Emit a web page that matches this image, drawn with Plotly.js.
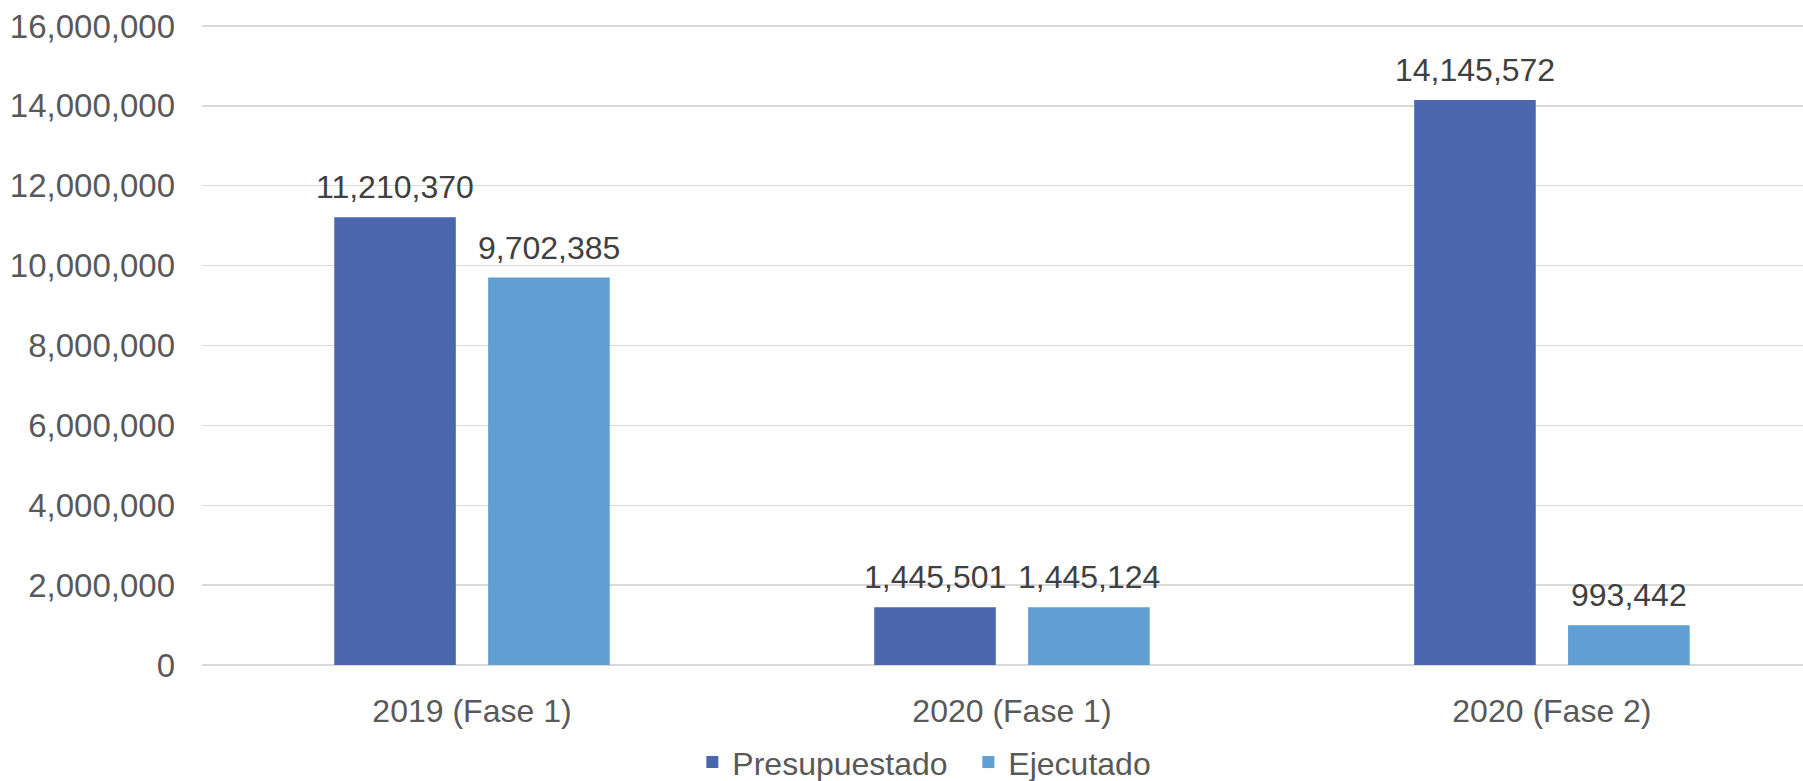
<!DOCTYPE html>
<html>
<head>
<meta charset="utf-8">
<script src="https://cdn.plot.ly/plotly-3.0.1.min.js"></script>
<style>
  html, body { margin: 0; padding: 0; background: #ffffff; }
  #chart { width: 1803px; height: 781px; }
</style>
</head>
<body>
<div id="chart"></div>
<script>
var categories = ["2019 (Fase 1)", "2020 (Fase 1)", "2020 (Fase 2)"];
var presupuestado = [11210370, 1445501, 14145572];
var ejecutado = [9702385, 1445124, 993442];
var seriesNames = ["Presupuestado", "Ejecutado"];
var yTickVals = [0, 2000000, 4000000, 6000000, 8000000, 10000000, 12000000, 14000000, 16000000];

var FONT = "Liberation Sans, Arial, sans-serif";
var FS = 32;

var traces = [
  {
    type: "bar",
    name: seriesNames[0],
    x: categories,
    y: presupuestado,
    marker: { color: "#4A66AD" },
    hoverinfo: "x+y"
  },
  {
    type: "bar",
    name: seriesNames[1],
    x: categories,
    y: ejecutado,
    marker: { color: "#619ED2" },
    hoverinfo: "x+y"
  }
];

function fmt(v) { return v.toLocaleString("en-US"); }

// data labels placed through the axis scales (offset to each bar of the group)
var BAR_OFFSET_PX = 77;
var annotations = [];
[presupuestado, ejecutado].forEach(function (series, si) {
  series.forEach(function (v, i) {
    annotations.push({
      x: categories[i],
      y: v,
      xref: "x",
      yref: "y",
      text: fmt(v),
      showarrow: false,
      xanchor: "center",
      yanchor: "bottom",
      xshift: si === 0 ? -BAR_OFFSET_PX : BAR_OFFSET_PX,
      yshift: 10,
      font: { family: FONT, size: FS, color: "#404040" }
    });
  });
});

var layout = {
  width: 1803,
  height: 781,
  paper_bgcolor: "#ffffff",
  plot_bgcolor: "#ffffff",
  margin: { l: 202, r: 0, t: 24, b: 116 },
  barmode: "group",
  bargap: 0.43,
  bargroupgap: 0.21,
  font: { family: FONT, size: FS, color: "#595959" },
  showlegend: true,
  annotations: annotations,
  legend: {
    orientation: "h",
    xref: "container",
    yref: "container",
    x: 0.384,
    xanchor: "left",
    y: 0.024,
    yanchor: "middle",
    font: { family: FONT, size: FS, color: "#595959" },
    itemwidth: 30,
    entrywidth: 231,
    tracegroupgap: 0
  },
  xaxis: {
    type: "category",
    range: [-0.5, 2.465],
    showgrid: false,
    zeroline: false,
    showline: false,
    ticks: "",
    ticklabelstandoff: 24,
    tickfont: { family: FONT, size: FS, color: "#595959" }
  },
  yaxis: {
    range: [0, 16050000],
    tickvals: yTickVals,
    tickformat: ",",
    showgrid: true,
    gridcolor: "#D9D9D9",
    gridwidth: 1.3,
    zeroline: true,
    zerolinecolor: "#D9D9D9",
    zerolinewidth: 1.3,
    showline: false,
    ticks: "",
    ticklabelstandoff: 26,
    tickfont: { family: FONT, size: 33, color: "#595959" }
  }
};

Plotly.newPlot("chart", traces, layout, { displayModeBar: false, staticPlot: true });
</script>
</body>
</html>
